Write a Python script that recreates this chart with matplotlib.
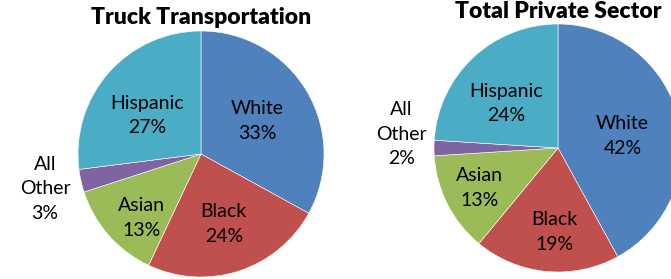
import numpy as np
import matplotlib.pyplot as plt

plt.rcParams['font.family'] = ['Lato', 'DejaVu Sans']

groups = ['White', 'Black', 'Asian', 'All\nOther', 'Hispanic']
truck_pct = [33, 24, 13, 3, 27]
private_pct = [42, 19, 13, 2, 24]
colors = ['#4F81BD', '#C0504D', '#9BBB59', '#8064A2', '#4BACC6']

W, H = 671, 279
fig = plt.figure(figsize=(W / 100, H / 100), dpi=100)


def draw_pie(cx, cy, r, values, title, title_y, label_dist, label_shift):
    ax = fig.add_axes([(cx - r) / W, (H - cy - r) / H, 2 * r / W, 2 * r / H])
    wedges, _ = ax.pie(values, colors=colors, startangle=90, counterclock=False,
                       wedgeprops=dict(edgecolor='white', linewidth=0.4))
    ax.set_xlim(-1, 1)
    ax.set_ylim(-1, 1)
    for w, name, v, d, s in zip(wedges, groups, values, label_dist, label_shift):
        # label angle = wedge middle, nudged a bit like Excel's best fit
        mid = np.deg2rad((w.theta1 + w.theta2) / 2 + s)
        ax.text(d * np.cos(mid), d * np.sin(mid), f"{name}\n{v}%",
                ha='center', va='center', fontsize=14, color='black',
                linespacing=1.55, clip_on=False)
    fig.text(cx / W, 1 - title_y / H, title, ha='center', va='center',
             fontsize=16.5, fontweight='heavy')
    return ax


draw_pie(201, 154, 123, truck_pct, 'Truck Transportation', 17,
         [0.53, 0.6, 0.71, 1.3, 0.54], [0, 0, 6, 0, 6])
draw_pie(558, 148, 124, private_pct, 'Total Private Sector', 12,
         [0.53, 0.68, 0.71, 1.27, 0.55], [-4, 3, 0, -5, 6])

fig.savefig('out.png', dpi=100)
